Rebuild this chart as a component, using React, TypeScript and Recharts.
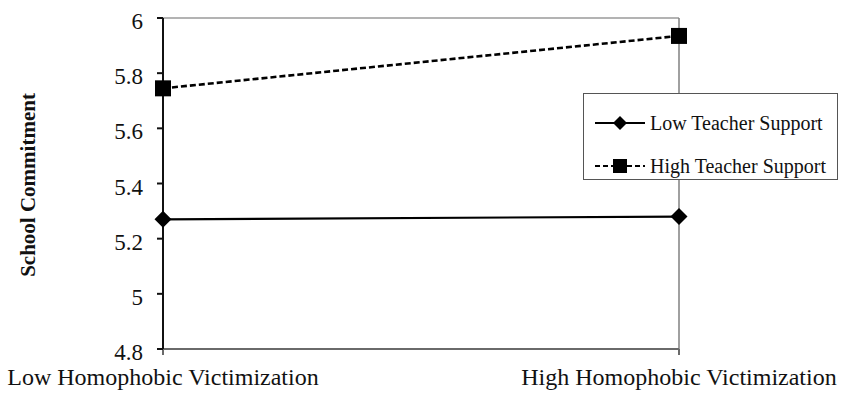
import React from "react";
import { LineChart, Line, XAxis, YAxis, ReferenceLine, Legend } from "recharts";

const categories = ["Low Homophobic Victimization", "High Homophobic Victimization"];
const lowTeacherSupport = [5.27, 5.28];
const highTeacherSupport = [5.745, 5.935];
const yTicks = [4.8, 5, 5.2, 5.4, 5.6, 5.8, 6];
const seriesNames = ["Low Teacher Support", "High Teacher Support"];

const data = categories.map((c, i) => ({
  name: c,
  low: lowTeacherSupport[i],
  high: highTeacherSupport[i],
}));

const FONT = '"Liberation Serif", "Times New Roman", serif';

const Diamond = (props: any) => {
  const { cx, cy } = props;
  if (cx == null || cy == null) return null;
  const r = 8.5;
  return <path d={`M${cx},${cy - r}L${cx + r},${cy}L${cx},${cy + r}L${cx - r},${cy}Z`} fill="#000" />;
};

const Square = (props: any) => {
  const { cx, cy } = props;
  if (cx == null || cy == null) return null;
  const s = 8;
  return <rect x={cx - s} y={cy - s} width={2 * s} height={2 * s} fill="#000" />;
};

const YTick = (props: any) => {
  const { x, y, payload } = props;
  return (
    <text x={x} y={y + 11} textAnchor="end" fontFamily={FONT} fontSize={23} fill="#111">
      {payload.value}
    </text>
  );
};

const XTick = (props: any) => {
  const { x, y, payload } = props;
  return (
    <text x={x} y={y + 28} textAnchor="middle" fontFamily={FONT} fontSize={24} fill="#111">
      {payload.value}
    </text>
  );
};

const LegendContent = (props: any) => {
  const payload = props.payload || [];
  const rows: Record<string, number> = { low: 29, high: 72 };
  return (
    <div style={{ position: "relative", width: "100%", height: "100%" }}>
      {payload.map((p: any, i: number) => {
        const dashed = p.dataKey === "high";
        const cy = rows[p.dataKey] ?? 29 + i * 43;
        return (
          <div key={i} style={{ position: "absolute", left: 0, top: cy - 12, height: 24, width: "100%" }}>
            <svg width={66} height={24} style={{ position: "absolute", left: 0, top: 0 }}>
              <line x1={11} x2={61} y1={12} y2={12} stroke="#000" strokeWidth={2.2} strokeDasharray={dashed ? "5 3" : undefined} />
              {dashed ? (
                <rect x={36 - 7} y={12 - 7} width={14} height={14} fill="#000" />
              ) : (
                <path d="M36,5L43,12L36,19L29,12Z" fill="#000" />
              )}
            </svg>
            <span
              style={{
                position: "absolute",
                left: 66,
                top: 0,
                lineHeight: "24px",
                fontFamily: FONT,
                fontSize: 20,
                color: "#111",
                whiteSpace: "nowrap",
              }}
            >
              {p.value}
            </span>
          </div>
        );
      })}
    </div>
  );
};

export default function App() {
  return (
    <div style={{ position: "absolute", left: 0, top: 0, width: 843, height: 404, background: "#fff" }}>
      <LineChart width={843} height={404} data={data} margin={{ top: 18, right: 164, bottom: 0, left: 0 }}>
        <ReferenceLine y={6} stroke="#9a9a9a" strokeWidth={1.5} />
        <ReferenceLine x={categories[1]} stroke="#808080" strokeWidth={1.5} />
        <XAxis
          dataKey="name"
          height={55}
          stroke="#6a6a6a"
          strokeWidth={2}
          tickSize={6}
          tickMargin={2}
          tick={<XTick />}
          interval={0}
        />
        <YAxis
          width={163}
          domain={[4.8, 6]}
          ticks={yTicks}
          stroke="#111"
          strokeWidth={2}
          tickSize={6}
          tickMargin={14}
          tick={<YTick />}
          interval={0}
          label={{
            content: () => (
              <text
                x={35}
                y={185}
                transform="rotate(-90 35 185)"
                textAnchor="middle"
                fontFamily={FONT}
                fontWeight="bold"
                fontSize={21}
                fill="#111"
              >
                School Commitment
              </text>
            ),
          }}
        />
        <Legend
          layout="horizontal"
          verticalAlign="middle"
          align="center"
          content={<LegendContent />}
          wrapperStyle={{
            left: 583,
            top: 93,
            width: 255,
            height: 87,
            border: "1.5px solid #555",
            background: "#fff",
            boxSizing: "border-box",
          }}
        />
        <Line
          name={seriesNames[0]}
          dataKey="low"
          stroke="#000"
          strokeWidth={2.2}
          dot={<Diamond />}
          activeDot={false}
          isAnimationActive={false}
        />
        <Line
          name={seriesNames[1]}
          dataKey="high"
          stroke="#000"
          strokeWidth={2.6}
          strokeDasharray="6 3"
          dot={<Square />}
          activeDot={false}
          isAnimationActive={false}
        />
      </LineChart>
    </div>
  );
}
